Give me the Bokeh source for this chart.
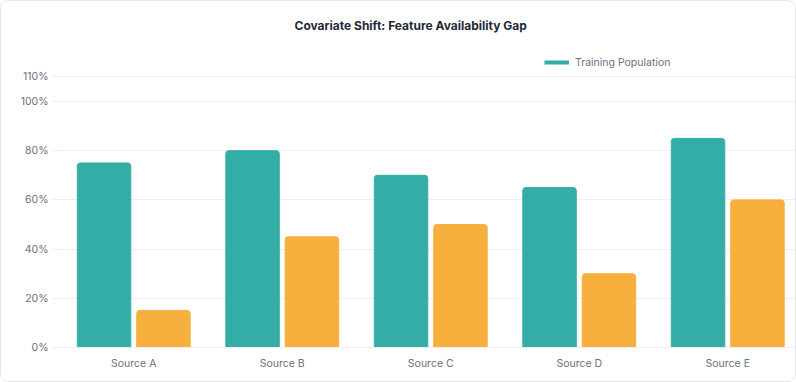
from bokeh.plotting import figure
from bokeh.models import ColumnDataSource, Legend, LegendItem, FixedTicker, Range1d
from bokeh.embed import file_html
from bokeh.resources import INLINE

categories = ["Source A", "Source B", "Source C", "Source D", "Source E"]
training = [75, 80, 70, 65, 85]
deployment = [15, 45, 50, 30, 60]
y_ticks = [0, 20, 40, 60, 80, 100, 110]
y_tick_labels = ["0%", "20%", "40%", "60%", "80%", "100%", "110%"]

TEAL = "#33ada6"
ORANGE = "#f7b03e"
FONT = "Inter"

idx = list(range(len(categories)))
src = ColumnDataSource(dict(
    xt=[i + 0.5 - 0.2 for i in idx],
    xd=[i + 0.5 + 0.2 for i in idx],
    training=training,
    deployment=deployment,
))

W, H = 796, 382
LEFT = 58
p = figure(width=W, height=H, output_backend="svg", toolbar_location=None,
           x_range=Range1d(0, (W - LEFT) / 148.5), y_range=Range1d(0, 297 / 2.46),
           min_border_left=LEFT, min_border_right=0, min_border_bottom=36,
           min_border_top=49)
p.styles = {"border": "1px solid #e5e7eb", "border-radius": "8px", "overflow": "hidden"}
p.background_fill_color = "white"
p.border_fill_color = "white"
p.outline_line_color = None

p.title.text = "Covariate Shift: Feature Availability Gap"
p.title.align = "left"
p.title.vertical_align = "top"
p.title.offset = 235
p.title.text_font = FONT
p.title.text_font_size = "12px"
p.title.text_font_style = "bold"
p.title.text_color = "#1f2937"
p.title.standoff = 32

p.vbar(x="xt", top="training", width=0.36, source=src, fill_color=TEAL,
       line_color=TEAL, border_radius=(3, 3, 0, 0))
p.vbar(x="xd", top="deployment", width=0.36, source=src, fill_color=ORANGE,
       line_color=ORANGE, border_radius=(3, 3, 0, 0))

sw = p.line(x=[None], y=[None], line_color=TEAL, line_width=4)

legend = Legend(items=[LegendItem(label="Training Population", renderers=[sw])],
                location=(485, 278), orientation="horizontal",
                padding=0, margin=0, spacing=0,
                glyph_width=25, glyph_height=14, label_height=14,
                label_standoff=6, label_text_font=FONT, label_text_font_size="10.5px",
                label_text_color="#6b7280", border_line_color=None,
                background_fill_alpha=0)
p.add_layout(legend, "center")

p.xgrid.visible = False
p.ygrid.ticker = FixedTicker(ticks=y_ticks)
p.ygrid.grid_line_color = "#efefef"

p.yaxis.ticker = FixedTicker(ticks=y_ticks)
p.yaxis.major_label_overrides = {t: l for t, l in zip(y_ticks, y_tick_labels)}
p.yaxis.axis_line_color = None
p.yaxis.major_tick_in = 0
p.yaxis.major_tick_out = 7
p.yaxis.major_tick_line_color = "#efefef"
p.yaxis.minor_tick_line_color = None
p.yaxis.major_label_standoff = 4
p.yaxis.major_label_text_font = FONT
p.yaxis.major_label_text_font_size = "10.5px"
p.yaxis.major_label_text_color = "#6b7280"

p.xaxis.ticker = FixedTicker(ticks=[i + 0.5 for i in idx])
p.xaxis.major_label_overrides = {i + 0.5: c for i, c in zip(idx, categories)}
p.xaxis.axis_line_color = "#efefef"
p.xaxis.major_tick_in = 0
p.xaxis.major_tick_out = 0
p.xaxis.minor_tick_line_color = None
p.xaxis.major_label_standoff = 9
p.xaxis.major_label_text_font = FONT
p.xaxis.major_label_text_font_size = "10.5px"
p.xaxis.major_label_text_color = "#6b7280"

open("out.html", "w").write(file_html(p, INLINE))
